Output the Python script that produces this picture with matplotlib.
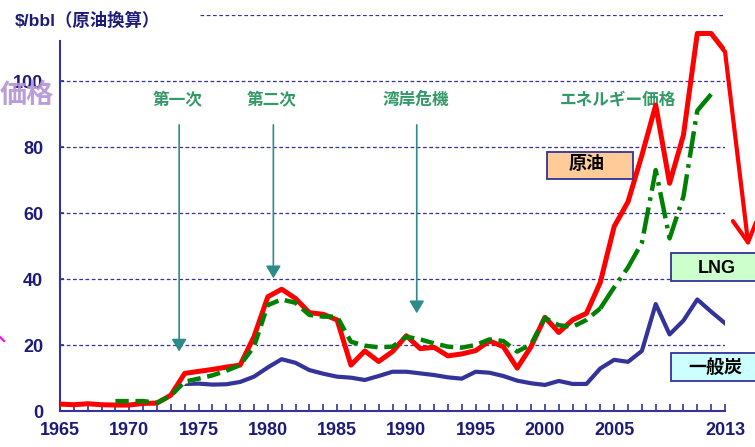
import numpy as np
import matplotlib
matplotlib.use("Agg")
import matplotlib.pyplot as plt
from matplotlib.patches import Rectangle
from matplotlib.lines import Line2D

plt.rcParams['font.family'] = ['Liberation Sans', 'Noto Sans CJK JP', 'DejaVu Sans']
plt.rcParams['font.weight'] = 'bold'

# 原油 (crude oil), $/bbl
crudeYears = list(range(1965, 2014))
crudePrice = [2.1, 1.9, 2.2, 1.9, 1.8, 1.8, 2.3, 2.4, 4.8, 11.4,
              12.0, 12.6, 13.3, 13.9, 22.5, 34.6, 36.9, 34.1, 29.8, 29.3,
              27.6, 13.9, 18.2, 15.0, 18.0, 22.8, 18.9, 19.3, 16.7, 17.3,
              18.3, 21.2, 19.5, 13.0, 19.5, 28.4, 23.8, 27.6, 29.6, 39.0,
              55.9, 63.4, 77.5, 92.7, 69.0, 83.6, 114.4, 114.4, 109.0]

# LNG, crude-oil equivalent
lngYears = list(range(1969, 2013))
lngPrice = [3.0, 3.0, 3.0, 2.5, 4.6, 8.9, 9.8, 10.8, 12.2, 13.9,
            19.5, 32.1, 33.8, 32.8, 29.1, 28.6, 28.6, 21.0, 19.8, 19.3,
            19.5, 22.5, 21.7, 20.5, 19.5, 19.2, 20.0, 21.7, 21.2, 18.0,
            20.2, 28.2, 26.0, 25.5, 27.6, 31.1, 37.5, 43.5, 51.0, 73.0,
            52.3, 65.0, 91.0, 96.0]

# 一般炭 (steam coal), crude-oil equivalent
coalYears = list(range(1974, 2014))
coalPrice = [8.2, 8.3, 8.0, 8.1, 8.8, 10.4, 13.2, 15.7, 14.6, 12.4,
             11.3, 10.4, 10.1, 9.4, 10.6, 11.9, 11.9, 11.4, 10.9, 10.2,
             9.8, 11.9, 11.6, 10.6, 9.2, 8.4, 7.9, 9.1, 8.2, 8.2,
             12.9, 15.5, 14.9, 18.2, 32.4, 23.2, 27.4, 33.8, 30.1, 26.6]

xTickYears = [1965, 1970, 1975, 1980, 1985, 1990, 1995, 2000, 2005, 2013]
yTicks = [0, 20, 40, 60, 80, 100]
gridLevels = [20, 40, 60, 80, 100]

# shock annotations: label, arrow year, arrow tip value
eventLabels = ["第一次", "第二次", "湾岸危機"]
eventYears = [1973.6, 1980.4, 1990.75]
eventTips = [18.0, 40.2, 29.6]

NAVY = '#1c1c78'
AXIS = '#333399'
TEAL = '#2e8b8b'
LABEL_GREEN = '#339966'

fig = plt.figure(figsize=(7.55, 4.47), dpi=100)
ax = fig.add_axes([60 / 755, 36 / 447, 665 / 755, 396 / 447])
ax.set_xlim(1965, 2013)
ax.set_ylim(0, 120)

for g in gridLevels:
    ax.axhline(g, color=AXIS, lw=0.9, ls=(0, (3, 2)), zorder=1)
ax.axhline(120, xmin=140 / 665, xmax=1, color=AXIS, lw=0.9, ls=(0, (3, 2)), zorder=1)

# lines
ax.plot(coalYears, coalPrice, color='#333399', lw=3.0, zorder=3, solid_joinstyle='round')
splitIdx = lngYears.index(2004)
ax.plot(lngYears[:splitIdx + 1], lngPrice[:splitIdx + 1], color='white', lw=3.2, zorder=4)
ax.plot(lngYears[:splitIdx + 1], lngPrice[:splitIdx + 1], color='#008000', lw=3.2,
        ls=(0, (3, 1.5)), zorder=5)
ax.plot(lngYears[splitIdx:], lngPrice[splitIdx:], color='#008000', lw=3.2,
        ls=(0, (6, 1.5, 0.8, 1.5)), zorder=5)
ax.plot(crudeYears, crudePrice, color='#ff0000', lw=3.6, zorder=4)

# red arrow after the end of crude line
ax.annotate('', xy=(2014.7, 49.8), xytext=(crudeYears[-1], crudePrice[-1]),
            arrowprops=dict(arrowstyle='->,head_length=0.55,head_width=0.3',
                            color='#ff0000', lw=3, mutation_scale=30,
                            shrinkA=0, shrinkB=0),
            annotation_clip=False, zorder=6)

# event arrows and labels
for label, yr, tip in zip(eventLabels, eventYears, eventTips):
    ax.annotate('', xy=(yr, tip), xytext=(yr, 86.7),
                arrowprops=dict(arrowstyle='-|>,head_length=0.5,head_width=0.3',
                                color=TEAL, lw=1.2, mutation_scale=15,
                                shrinkA=0, shrinkB=0), zorder=2)
    ax.text(yr - 0.1, 94.2, label, color=LABEL_GREEN, fontsize=12,
            ha='center', va='center', fontweight='bold')
ax.text(2005.3, 94.2, "エネルギー価格", color=LABEL_GREEN, fontsize=12,
        ha='center', va='center', fontweight='bold')

# axes styling
for s in ['top', 'right']:
    ax.spines[s].set_visible(False)
ax.spines['left'].set_color(AXIS)
ax.spines['bottom'].set_color(AXIS)
ax.spines['left'].set_linewidth(1.5)
ax.spines['bottom'].set_linewidth(1.5)
ax.spines['left'].set_bounds(0, 112)

ax.set_xticks(range(1965, 2014), minor=True)
ax.set_xticks(xTickYears)
ax.set_xticklabels([str(y) for y in xTickYears])
ax.tick_params(axis='x', which='both', direction='in', length=5, color=AXIS, width=1.2,
               labelsize=13, labelcolor=NAVY, pad=8)
ax.set_yticks(yTicks)
ax.set_yticklabels([str(v) for v in yTicks])
ax.tick_params(axis='y', direction='in', length=3, color=AXIS, width=1.2,
               labelsize=13, labelcolor=NAVY, pad=12)
for lbl in ax.get_xticklabels() + ax.get_yticklabels():
    lbl.set_fontweight('bold')

# legend-like boxes
boxes = [("原油", 0.7323, 0.5859, 0.1294, 0.0681, '#ffcc99'),
         ("LNG", 0.9188, 0.3283, 0.15, 0.0707, '#ccffcc'),
         ("一般炭", 0.9188, 0.0758, 0.15, 0.0707, '#ccffff')]
textCenters = [(0.7918, 0.6225), (0.9880, 0.3611), (0.9850, 0.1086)]
for (txt, bx, by, bw, bh, fc), (tx, ty) in zip(boxes, textCenters):
    ax.add_patch(Rectangle((bx, by), bw, bh, transform=ax.transAxes, facecolor=fc,
                           edgecolor=AXIS, lw=1.3, clip_on=False, zorder=7))
    ax.text(tx, ty, txt, transform=ax.transAxes, fontsize=13, fontweight='bold',
            color='black', ha='center', va='center', zorder=8)

# titles
fig.text(15 / 755, 1 - 20 / 447, "$/bbl（原油換算）", color=NAVY, fontsize=12.5,
         fontweight='bold', ha='left', va='center')
fig.text(27 / 755, 1 - 96 / 447, "価格", color='#b394d6', fontsize=19.5,
         fontweight='bold', ha='center', va='center', alpha=0.9)
fig.add_artist(Line2D([0 / 755, 4 / 755], [1 - 337 / 447, 1 - 341 / 447],
                      color='#ff00ff', lw=1.5))

fig.savefig("out.png", dpi=100)
